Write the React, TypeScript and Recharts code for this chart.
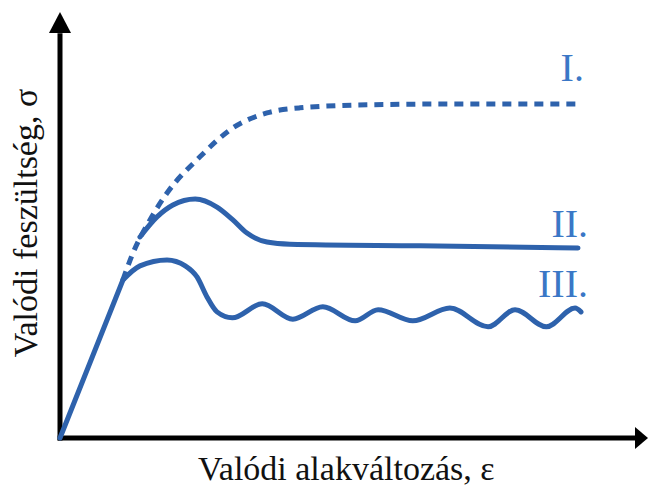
import React from "react";
import {
  LineChart,
  Line,
  XAxis,
  YAxis,
  ReferenceLine,
  ReferenceDot,
} from "recharts";

// strain (eps) / stress (sigma) in arbitrary units, 0..100 on both axes
const elasticEps = [0, 10.7];
const elasticSig = [0, 37.1];

const curveIEps = [10.7, 12.4, 15.3, 18.2, 23.8, 29.4, 35.2, 40.8, 52.2, 66.3, 87.9];
const curveISig = [37.1, 43.4, 51.2, 57.5, 66.0, 72.8, 76.3, 77.5, 78.2, 78.4, 78.4];

const curveIIEps = [13.6, 16.5, 19.2, 23.0, 26.7, 29.4, 31.8, 35.2, 39.1, 61.2, 88.1];
const curveIISig = [47.2, 51.9, 54.7, 56.1, 54.2, 51.2, 48.1, 46.0, 45.5, 45.1, 44.6];

const curveIIIEps = [
  10.7, 13.6, 18.2, 21.3, 23.3, 25.0, 26.7, 29.3, 34.4, 39.6, 44.7, 50.2, 54.1,
  60.0, 66.3, 72.8, 77.4, 82.7, 87.6, 88.6,
];
const curveIIISig = [
  37.1, 40.4, 41.8, 40.4, 37.8, 33.1, 29.6, 28.2, 31.5, 27.9, 30.8, 27.5, 30.1,
  27.5, 30.5, 26.1, 30.1, 26.1, 30.5, 29.6,
];

const curveLabels = ["I.", "II.", "III."];
const labelEps = [89.1, 89.8, 89.8];
const labelSig = [83.8, 47.2, 33.1];

const toPoints = (eps: number[], sig: number[]) =>
  eps.map((e, i) => ({ eps: e, sig: sig[i] }));

const BLUE = "#2e62ac";
const LABEL_BLUE = "#3a77c6";
const FONT = "Liberation Serif, Times New Roman, serif";

const App = () => {
  return (
    <div style={{ position: "absolute", left: 0, top: 0 }}>
      <LineChart
        width={648}
        height={487}
        margin={{ top: 12, right: 0, bottom: 0, left: 0 }}
      >
        <XAxis
          type="number"
          dataKey="eps"
          domain={[0, 100]}
          height={49}
          axisLine={false}
          tickLine={false}
          tick={false}
          label={{
            content: (props: any) => {
              const vb = props.viewBox;
              return (
                <text
                  x={vb.x + 138}
                  y={vb.y + 42}
                  style={{ fontFamily: FONT, fontSize: 34 }}
                  fill="#111"
                >
                  Valódi alakváltozás, ε
                </text>
              );
            },
          }}
        />
        <YAxis
          type="number"
          dataKey="sig"
          domain={[0, 100]}
          width={60}
          axisLine={false}
          tickLine={false}
          tick={false}
          label={{
            content: (props: any) => {
              const vb = props.viewBox;
              const cx = vb.x + 37;
              const cy = vb.y + 211;
              return (
                <text
                  x={cx}
                  y={cy}
                  transform={`rotate(-90, ${cx}, ${cy})`}
                  textAnchor="middle"
                  style={{ fontFamily: FONT, fontSize: 34 }}
                  fill="#111"
                >
                  Valódi feszültség, σ
                </text>
              );
            },
          }}
        />
        <ReferenceLine
          segment={[
            { x: -0.4, y: 0 },
            { x: 98, y: 0 },
          ]}
          stroke="#000"
          strokeWidth={5}
          ifOverflow="visible"
        />
        <ReferenceLine
          segment={[
            { x: 0, y: -0.6 },
            { x: 0, y: 95 },
          ]}
          stroke="#000"
          strokeWidth={5}
          ifOverflow="visible"
        />
        <ReferenceDot
          x={100}
          y={0}
          ifOverflow="visible"
          shape={(p: any) => (
            <polygon
              points={`${p.cx},${p.cy} ${p.cx - 13},${p.cy - 11} ${p.cx - 13},${p.cy + 11}`}
              fill="#000"
            />
          )}
        />
        <ReferenceDot
          x={0}
          y={100}
          ifOverflow="visible"
          shape={(p: any) => (
            <polygon
              points={`${p.cx},${p.cy} ${p.cx - 11},${p.cy + 21} ${p.cx + 11},${p.cy + 21}`}
              fill="#000"
            />
          )}
        />
        <Line
          data={toPoints(elasticEps, elasticSig)}
          dataKey="sig"
          type="linear"
          stroke={BLUE}
          strokeWidth={5}
          strokeLinecap="round"
          dot={false}
          activeDot={false}
          isAnimationActive={false}
        />
        <Line
          data={toPoints(curveIEps, curveISig)}
          dataKey="sig"
          type="monotone"
          stroke={BLUE}
          strokeWidth={5}
          strokeDasharray="9 7"
          dot={false}
          activeDot={false}
          isAnimationActive={false}
        />
        <Line
          data={toPoints(curveIIEps, curveIISig)}
          dataKey="sig"
          type="monotone"
          stroke={BLUE}
          strokeWidth={5}
          strokeLinecap="round"
          dot={false}
          activeDot={false}
          isAnimationActive={false}
        />
        <Line
          data={toPoints(curveIIIEps, curveIIISig)}
          dataKey="sig"
          type="monotone"
          stroke={BLUE}
          strokeWidth={5}
          strokeLinecap="round"
          dot={false}
          activeDot={false}
          isAnimationActive={false}
        />
        {curveLabels.map((lab, i) => (
          <ReferenceDot
            key={lab}
            x={labelEps[i]}
            y={labelSig[i]}
            ifOverflow="visible"
            shape={(p: any) => (
              <text
                x={p.cx}
                y={p.cy}
                textAnchor="end"
                style={{ fontFamily: FONT, fontSize: 40 }}
                fill={LABEL_BLUE}
              >
                {lab}
              </text>
            )}
          />
        ))}
      </LineChart>
    </div>
  );
};

export default App;
